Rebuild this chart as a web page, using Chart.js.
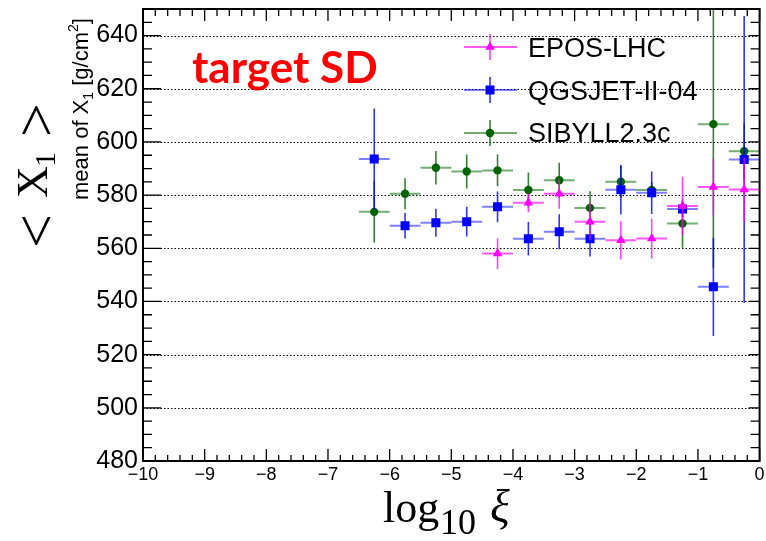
<html>
  <head>
    <script src="https://cdn.jsdelivr.net/npm/chart.js@4/dist/chart.umd.min.js"></script>
    <style>
      html,
      body {
        margin: 0;
        padding: 0;
        background: #fff;
      }
      #x1Chart {
        display: block;
      }
    </style>
  </head>
  <body>
    <canvas id="x1Chart" width="766" height="541"></canvas>

    <script>
      // log10(xi) bin centres, bins are 0.5 wide
      const binHalfWidth = 0.25;
      const binCenters = [-6.25, -5.75, -5.25, -4.75, -4.25, -3.75, -3.25, -2.75, -2.25, -1.75, -1.25, -0.75, -0.25];
      const eposBins = [-4.25, -3.75, -3.25, -2.75, -2.25, -1.75, -1.25, -0.75, -0.25];

      // mean X1 [g/cm2] and its uncertainty per model
      const eposMean = [558.0, 577.1, 580.5, 570.0, 563.0, 563.7, 575.9, 583.1, 582.1];
      const eposErr = [5.8, 3.5, 5.6, 6.9, 7.2, 7.5, 11.0, 10.7, 12.0];
      const qgsjetMean = [593.6, 568.5, 569.6, 570.0, 575.6, 563.6, 566.2, 563.6, 582.0, 580.9, 574.8, 545.5, 593.4];
      const qgsjetErr = [19.0, 4.8, 5.3, 5.6, 5.8, 6.3, 6.6, 6.7, 9.3, 8.0, 3.0, 18.5, 54.0];
      const sibyllMean = [573.7, 580.5, 590.3, 588.9, 589.3, 581.9, 585.6, 575.2, 585.0, 581.9, 569.3, 606.7, 596.5];
      const sibyllErr = [11.5, 5.8, 6.3, 6.4, 6.0, 6.6, 6.6, 6.3, 6.0, 3.0, 9.1, 54.0, 10.5];

      const modelNames = ["EPOS-LHC", "QGSJET-II-04", "SIBYLL2.3c"];

      const xTicks = [-10, -9, -8, -7, -6, -5, -4, -3, -2, -1, 0];
      const yTicks = [480, 500, 520, 540, 560, 580, 600, 620, 640];
      const xMinorStep = 0.2;
      const yMinorStep = 5;

      const toPoints = (xs, ys) => xs.map((x, i) => ({ x: x, y: ys[i] }));

      // error crosses: horizontal = bin width, vertical = +- error
      const errorBars = {
        id: "errorBars",
        beforeDatasetDraw(chart, args) {
          const ds = chart.data.datasets[args.index];
          const { ctx, chartArea } = chart;
          const xs = chart.scales.x;
          const ys = chart.scales.y;
          ctx.save();
          ctx.beginPath();
          ctx.rect(chartArea.left, chartArea.top, chartArea.width, chartArea.height);
          ctx.clip();
          ds.data.forEach((p, i) => {
            const px = xs.getPixelForValue(p.x);
            const py = ys.getPixelForValue(p.y);
            ctx.strokeStyle = ds.hBarColor;
            ctx.lineWidth = 2;
            ctx.beginPath();
            ctx.moveTo(xs.getPixelForValue(p.x - binHalfWidth), py);
            ctx.lineTo(xs.getPixelForValue(p.x + binHalfWidth), py);
            ctx.stroke();
            ctx.strokeStyle = ds.vBarColor;
            ctx.lineWidth = 1.6;
            ctx.beginPath();
            ctx.moveTo(px, ys.getPixelForValue(p.y - ds.yErr[i]));
            ctx.lineTo(px, ys.getPixelForValue(p.y + ds.yErr[i]));
            ctx.stroke();
          });
          ctx.restore();
        },
      };

      // dotted horizontal grid under the markers
      const dottedGrid = {
        id: "dottedGrid",
        beforeDatasetsDraw(chart) {
          const { ctx, chartArea } = chart;
          const ys = chart.scales.y;
          ctx.save();
          ctx.strokeStyle = "#000";
          ctx.lineWidth = 1;
          ctx.setLineDash([1.5, 2]);
          yTicks.forEach((v) => {
            if (v === ys.min) return;
            const py = Math.round(ys.getPixelForValue(v)) + 0.5;
            ctx.beginPath();
            ctx.moveTo(chartArea.left, py);
            ctx.lineTo(chartArea.right, py);
            ctx.stroke();
          });
          ctx.restore();
        },
      };

      // frame with inward tick marks on all four sides
      const frameTicks = {
        id: "frameTicks",
        afterDraw(chart) {
          const { ctx, chartArea: a } = chart;
          const xs = chart.scales.x;
          const ys = chart.scales.y;
          ctx.save();
          ctx.strokeStyle = "#000";
          ctx.lineWidth = 1.3;
          ctx.beginPath();
          for (let v = ys.min; v <= ys.max + 1e-6; v += yMinorStep) {
            const major = yTicks.includes(Math.round(v));
            const py = ys.getPixelForValue(v);
            ctx.moveTo(a.left, py);
            ctx.lineTo(a.left + (major ? 18 : 9), py);
            ctx.moveTo(a.right, py);
            ctx.lineTo(a.right - (major ? 11 : 9), py);
          }
          for (let k = 0; k <= 50; k++) {
            const v = xs.min + k * xMinorStep;
            const major = k % 5 === 0;
            const px = xs.getPixelForValue(v);
            ctx.moveTo(px, a.bottom);
            ctx.lineTo(px, a.bottom - (major ? 12 : 6));
            ctx.moveTo(px, a.top);
            ctx.lineTo(px, a.top + (major ? 12 : 7));
          }
          ctx.stroke();
          ctx.lineWidth = 2;
          ctx.strokeRect(a.left, a.top, a.width, a.height);
          ctx.restore();
        },
      };

      function drawMarker(ctx, style, x, y, color) {
        ctx.fillStyle = color;
        ctx.beginPath();
        if (style === "circle") {
          ctx.arc(x, y, 4.2, 0, Math.PI * 2);
        } else if (style === "rect") {
          ctx.rect(x - 4.5, y - 4.5, 9, 9);
        } else {
          ctx.moveTo(x, y - 5.5);
          ctx.lineTo(x + 4.8, y + 2.8);
          ctx.lineTo(x - 4.8, y + 2.8);
          ctx.closePath();
        }
        ctx.fill();
      }

      // legend, texts and axis titles
      const annotations = {
        id: "annotations",
        afterDraw(chart) {
          const ctx = chart.ctx;
          ctx.save();

          // legend
          const rows = [
            { ds: chart.data.datasets[0], y: 47, base: 57 },
            { ds: chart.data.datasets[1], y: 90, base: 100 },
            { ds: chart.data.datasets[2], y: 133, base: 142 },
          ];
          rows.forEach((r) => {
            ctx.lineWidth = 2;
            ctx.strokeStyle = r.ds.hBarColor;
            ctx.beginPath();
            ctx.moveTo(464, r.y);
            ctx.lineTo(517, r.y);
            ctx.stroke();
            ctx.strokeStyle = r.ds.vBarColor;
            ctx.lineWidth = 1.6;
            ctx.beginPath();
            ctx.moveTo(490, r.y - 13);
            ctx.lineTo(490, r.y + 13);
            ctx.stroke();
            drawMarker(ctx, r.ds.pointStyle, 490, r.y, r.ds.backgroundColor);
            ctx.fillStyle = "#000";
            ctx.font = "27px 'Liberation Sans', Arial, sans-serif";
            ctx.textBaseline = "alphabetic";
            ctx.textAlign = "left";
            ctx.fillText(r.ds.label, 528, r.base);
          });

          // label in the upper left
          ctx.fillStyle = "#ff0000";
          ctx.font = "bold 44px Lato, 'Open Sans', sans-serif";
          ctx.fillText("target SD", 192, 83);

          // y axis title (small)
          ctx.fillStyle = "#000";
          ctx.save();
          ctx.translate(88, 200);
          ctx.rotate(-Math.PI / 2);
          let cx = 0;
          const piece = (txt, size, dy) => {
            ctx.font = size + "px 'Liberation Sans', Arial, sans-serif";
            ctx.fillText(txt, cx, dy);
            cx += ctx.measureText(txt).width;
          };
          piece("mean of X", 22, 0);
          piece("1", 14, 5);
          piece(" [g/cm", 22, 0);
          piece("2", 14, -10);
          piece("]", 22, 0);
          ctx.restore();

          // y axis title (large)
          ctx.save();
          ctx.translate(0, 248);
          ctx.rotate(-Math.PI / 2);
          ctx.font = "60px 'Liberation Serif', serif";
          ctx.fillText("<", 0, 56);
          ctx.font = "44px 'Liberation Serif', serif";
          ctx.fillText("X", 50, 47);
          ctx.font = "30px 'Liberation Serif', serif";
          ctx.fillText("1", 81, 55);
          ctx.font = "60px 'Liberation Serif', serif";
          ctx.fillText(">", 111, 56);
          ctx.restore();

          // x axis title
          ctx.font = "44px 'Liberation Serif', serif";
          ctx.fillText("log", 383, 522);
          ctx.font = "36px 'Liberation Serif', serif";
          ctx.fillText("10", 440, 534);
          ctx.font = "italic 46px 'Liberation Serif', serif";
          ctx.fillText("\u03BE", 490, 522);

          ctx.restore();
        },
      };

      const ctx = document.getElementById("x1Chart").getContext("2d");

      const x1Chart = new Chart(ctx, {
        type: "scatter",
        data: {
          datasets: [
            {
              label: modelNames[0],
              data: toPoints(eposBins, eposMean),
              yErr: eposErr,
              pointStyle: "triangle",
              pointRadius: 5.5,
              borderWidth: 0,
              backgroundColor: "#ff00ff",
              borderColor: "#ff00ff",
              hBarColor: "rgba(255,0,255,0.65)",
              vBarColor: "rgba(255,0,255,0.75)",
            },
            {
              label: modelNames[1],
              data: toPoints(binCenters, qgsjetMean),
              yErr: qgsjetErr,
              pointStyle: "rect",
              pointRadius: 6.4,
              borderWidth: 0,
              backgroundColor: "#0000ff",
              borderColor: "#0000ff",
              hBarColor: "rgba(0,0,255,0.5)",
              vBarColor: "rgba(0,0,255,0.8)",
            },
            {
              label: modelNames[2],
              data: toPoints(binCenters, sibyllMean),
              yErr: sibyllErr,
              pointStyle: "circle",
              pointRadius: 4.2,
              borderWidth: 0,
              backgroundColor: "#006400",
              borderColor: "#006400",
              hBarColor: "rgba(0,110,0,0.55)",
              vBarColor: "rgba(0,100,0,0.8)",
            },
          ],
        },
        options: {
          responsive: false,
          animation: false,
          layout: { padding: { left: 0, right: 3, top: 9, bottom: 0 } },
          plugins: {
            legend: { display: false },
            tooltip: { enabled: false },
          },
          scales: {
            x: {
              type: "linear",
              min: -10,
              max: 0,
              afterBuildTicks: (s) => {
                s.ticks = xTicks.map((v) => ({ value: v }));
              },
              afterFit: (s) => {
                s.height = 80;
                s.paddingLeft = 0;
                s.paddingRight = 0;
              },
              grid: { display: false, drawTicks: false },
              border: { display: false },
              ticks: {
                autoSkip: false,
                maxRotation: 0,
                padding: 3,
                color: "#000",
                font: { family: "'Liberation Sans', Arial, sans-serif", size: 18 },
                callback: (v) => (v < 0 ? "\u2212" + Math.abs(v) : String(v)),
              },
            },
            y: {
              type: "linear",
              min: 480,
              max: 650,
              afterBuildTicks: (s) => {
                s.ticks = yTicks.map((v) => ({ value: v }));
              },
              afterFit: (s) => {
                s.width = 143;
                s.paddingTop = 0;
                s.paddingBottom = 0;
              },
              grid: { display: false, drawTicks: false },
              border: { display: false },
              ticks: {
                padding: 5,
                color: "#000",
                font: { family: "'Liberation Sans', Arial, sans-serif", size: 25 },
              },
            },
          },
        },
        plugins: [dottedGrid, errorBars, frameTicks, annotations],
      });
    </script>
  </body>
</html>
